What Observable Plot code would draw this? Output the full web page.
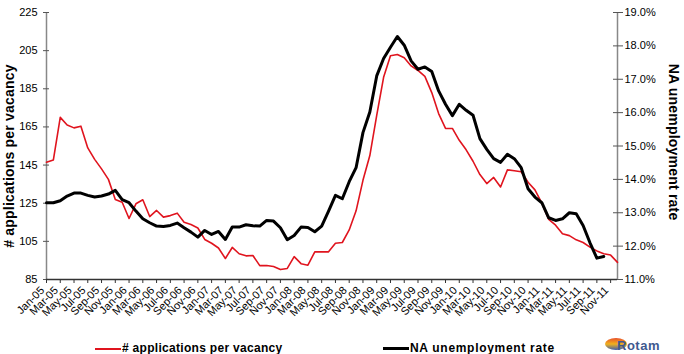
<!DOCTYPE html>
<html><head><meta charset="utf-8">
<script src="https://cdn.jsdelivr.net/npm/d3@7"></script>
<script src="https://cdn.jsdelivr.net/npm/@observablehq/plot@0.6"></script>
<style>
body{margin:0;background:#fff;font-family:"Liberation Sans",Arial,sans-serif;}
#wrap{position:relative;width:684px;height:354px;overflow:hidden;background:#fff}
.leg{position:absolute;top:341px;font-weight:bold;font-size:12px;line-height:14px;letter-spacing:0.3px;white-space:nowrap;color:#000}
.sw{display:inline-block;width:26px;vertical-align:middle;margin-right:1px}
.ttl{position:absolute;transform:translate(-50%,-50%) rotate(-90deg);font-weight:bold;font-size:14px;white-space:nowrap;color:#000;letter-spacing:0.2px}
#logo{position:absolute;left:603px;top:335px;width:81px;height:18px}
</style></head><body>
<div id="wrap">
<div id="chart"></div>
<div class="ttl" style="left:9px;top:156px"># applications per vacancy</div>
<div class="ttl" style="left:674px;top:142px;transform:translate(-50%,-50%) rotate(90deg)">NA unemployment rate</div>
<div class="leg" style="left:95px"><span class="sw" style="border-top:2px solid #e0141e"></span># applications per vacancy</div>
<div class="leg" style="left:383px;letter-spacing:0.7px"><span class="sw" style="border-top:3px solid #000"></span>NA unemployment rate</div>
<div id="logo">
<div style="position:absolute;left:2px;top:3px;width:22px;height:12px;border-radius:50%;background:linear-gradient(#e8502a,#f2b21c 50%,#3d5fae)"></div>
<div style="position:absolute;left:14px;top:3px;font-size:13px;line-height:15px;color:#40598f;font-weight:bold;letter-spacing:0.5px">Rotam</div>
</div>
</div>
<script>
const tickLabels = ["Jan-05","Mar-05","May-05","Jul-05","Sep-05","Nov-05",
"Jan-06","Mar-06","May-06","Jul-06","Sep-06","Nov-06",
"Jan-07","Mar-07","May-07","Jul-07","Sep-07","Nov-07",
"Jan-08","Mar-08","May-08","Jul-08","Sep-08","Nov-08",
"Jan-09","Mar-09","May-09","Jul-09","Sep-09","Nov-09",
"Jan-10","Mar-10","May-10","Jul-10","Sep-10","Nov-10",
"Jan-11","Mar-11","May-11","Jul-11","Sep-11","Nov-11"];

// # applications per vacancy, monthly Jan-05 .. Dec-11
const applications = [146.5,147.7,170,166,164.5,165.4,154,148,143,137.5,127,125.5,
117,124.7,126.8,118,121.2,117.7,118.5,119.8,115,113.8,112,106,
104,101.5,96,101.8,98.5,97.4,97.6,92.3,92.3,91.8,90.2,90.8,
97,93.3,92.5,99.5,99.5,99.5,104,104.4,111,121,137,150,
171,191,202.3,203,201.3,197,194.6,191.5,183,172,164.2,164.2,
158,153,147,140,135.3,138.5,133.5,142.5,142,141.5,136,132,
125,116.5,113.5,109,108,105.8,104.4,102,100,98.5,97.8,94];

// NA unemployment rate (%), monthly Jan-05 .. Oct-11
const unemployment = [13.30,13.30,13.36,13.50,13.59,13.59,13.52,13.47,13.50,13.56,13.67,13.39,
13.30,13.05,12.82,12.70,12.60,12.59,12.62,12.69,12.55,12.42,12.27,12.47,
12.35,12.44,12.20,12.57,12.57,12.64,12.61,12.60,12.77,12.75,12.55,12.19,
12.32,12.57,12.56,12.43,12.60,13.05,13.52,13.42,13.93,14.35,15.40,16.02,
17.10,17.62,17.96,18.28,18.02,17.55,17.30,17.37,17.23,16.65,16.25,15.91,
16.25,16.07,15.92,15.22,14.90,14.62,14.51,14.75,14.62,14.35,13.72,13.47,
13.30,12.85,12.77,12.82,13.00,12.97,12.62,12.10,11.64,11.69];

const leftTicks = [85,105,125,145,165,185,205,225];
const rightTicks = [11,12,13,14,15,16,17,18,19];
const rightTickLabels = ["11.0%","12.0%","13.0%","14.0%","15.0%","16.0%","17.0%","18.0%","19.0%"];

const nMonths = applications.length;
const toLeft = r => 85 + (r - 11) * 140 / 8;
const tickIdx = tickLabels.map((d, i) => i * 2);

const chart = Plot.plot({
  width: 684, height: 330,
  marginLeft: 46, marginRight: 67, marginTop: 12, marginBottom: 51,
  style: {fontFamily: "Liberation Sans, Arial, sans-serif", fontSize: "11px", color: "#000", background: "#fff"},
  x: {domain: [0, nMonths - 1], axis: null},
  y: {domain: [85, 225], axis: null},
  marks: [
    Plot.ruleX([0], {stroke: "#888", strokeWidth: 1.5}),
    Plot.ruleX([nMonths - 1], {stroke: "#888", strokeWidth: 1.5}),
    Plot.axisY({ticks: leftTicks, anchor: "left", tickSize: 6, dx: 3, tickPadding: 6, label: null, fontSize: 11, stroke: "#555"}),
    Plot.axisY({ticks: rightTicks.map(toLeft), anchor: "right", tickSize: 10, dx: -5, tickPadding: 2, label: null, fontSize: 11, stroke: "#555",
      tickFormat: d => rightTickLabels[Math.round((d - 85) / 17.5)]}),
    Plot.axisX({ticks: tickIdx, anchor: "bottom", tickSize: 4, label: null, stroke: "#333", text: null}),
    Plot.axisX({ticks: tickIdx, anchor: "bottom", tickSize: 0, tickRotate: -45, tickPadding: 9, dx: -4, label: null, fontSize: 11,
      tickFormat: d => tickLabels[Math.round(d / 2)]}),
    Plot.ruleY([85], {stroke: "#333", strokeWidth: 1.5}),
    Plot.lineY(applications, {x: (d, i) => i, y: d => d, stroke: "#e0141e", strokeWidth: 1.6}),
    Plot.lineY(unemployment, {x: (d, i) => i, y: d => toLeft(d), stroke: "#000", strokeWidth: 3})
  ]
});
document.getElementById("chart").appendChild(chart);
</script>
</body></html>
